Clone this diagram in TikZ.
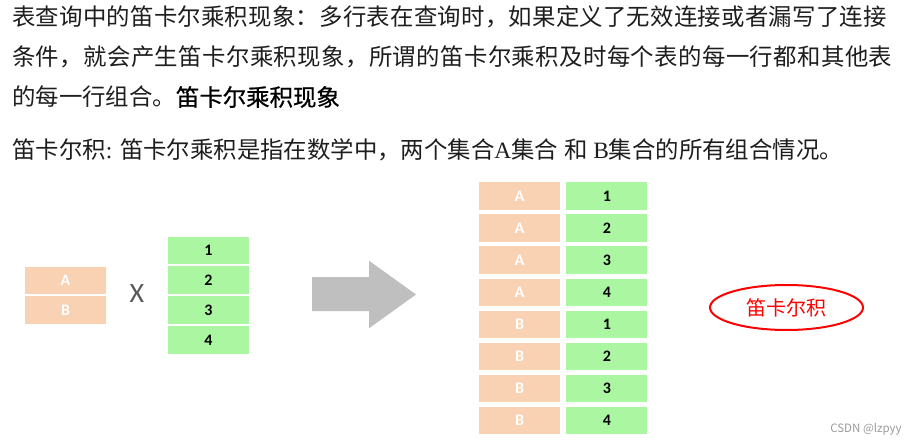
\documentclass[tikz,border=0pt]{standalone}
\usepackage{fontspec}
\usepackage{xcolor}
\usepackage{tikz}
\usetikzlibrary{positioning,shapes.geometric}
\setmainfont{Liberation Serif}
\newfontfamily\cjk{Noto Sans CJK SC}
\newfontfamily\carl{Carlito}
\definecolor{ink}{HTML}{1E1E1E}
\definecolor{salmon}{HTML}{F9D1B3}
\definecolor{mint}{HTML}{AAF6A1}
\definecolor{arrowgrey}{HTML}{BFBFBF}
\definecolor{xgrey}{HTML}{595959}
\definecolor{mark}{HTML}{9A9A9A}
\tikzset{
  line/.style={anchor=west, inner sep=0pt, text=ink, font=\cjk\fontsize{23.4}{23.4}\selectfont},
  cell/.style={minimum width=81pt, minimum height=27.5pt, inner sep=0pt,
               font=\carl\bfseries\fontsize{16}{16}\selectfont},
  lt/.style={cell, fill=salmon, text=white},
  rt/.style={cell, fill=mint, text=black},
}

\begin{document}
\begin{tikzpicture}[x=1pt,y=-1pt]
\useasboundingbox (0,0) rectangle (914,444);
% text lines
\node[line] (l1) at (12,17) {\addfontfeature{LetterSpace=1.05}表查询中的笛卡尔乘积现象：多行表在查询时，如果定义了无效连接或者漏写了连接};
\node[line] (l2) at (12,57) {\addfontfeature{LetterSpace=1.7}条件，就会产生笛卡尔乘积现象，所谓的笛卡尔乘积及时每个表的每一行都和其他表};
\node[line] (l3) at (12,97) {的每一行组合。{\addfontfeature{FakeBold=0.8}\color{black}笛卡尔乘积现象}};
\node[line, font=\fontsize{23.4}{23.4}\selectfont] (l4) at (12,150)
  {{\cjk 笛卡尔积}: {\cjk 笛卡尔乘积是指在数学中，两个集合}A{\cjk 集合} {\cjk 和} B{\cjk 集合的所有组合情况。}};

% the two sets
\node[lt] (a) at (65.5,280.3) {A};
\node[lt] (b) [below=2pt of a] {B};
\node[font=\carl\fontsize{28}{28}\selectfont, text=xgrey] (x) at (137,294) {X};
\node[rt] (n1) at (208.5,250.3) {1};
\node[rt] (n2) [below=2pt of n1] {2};
\node[rt] (n3) [below=2pt of n2] {3};
\node[rt] (n4) [below=2pt of n3] {4};

% arrow
\fill[arrowgrey] (312,277) -- (369,277) -- (369,260.7) -- (416,294.5)
  -- (369,328.3) -- (369,311) -- (312,311) -- cycle;

% product
\foreach \l/\n [count=\i] in {A/1,A/2,A/3,A/4,B/1,B/2,B/3,B/4} {
  \node[lt] (p\i) at (519.5,{196+32.1*(\i-1)}) {\l};
  \node[rt] (q\i) [right=6pt of p\i] {\n};
}

\node[ellipse, draw=red, line width=2pt, minimum width=153pt, minimum height=45pt,
      inner sep=0pt, text=red, font=\cjk\fontsize{20}{20}\selectfont] (cp) at (786.5,307.5) {笛卡尔积};
\node[text=mark, font=\cjk\fontsize{11.5}{11.5}\selectfont, inner sep=0pt] (wm) at (866,429) {CSDN @lzpyy};
\end{tikzpicture}
\end{document}
